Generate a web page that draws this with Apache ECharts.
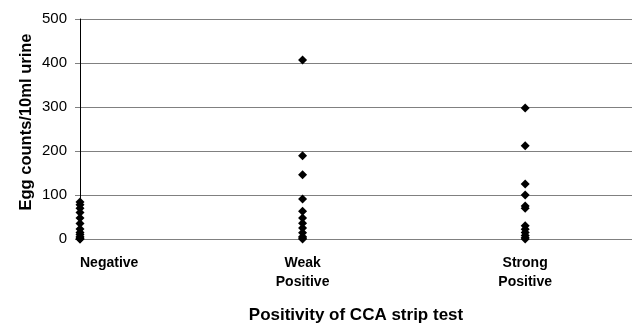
<!DOCTYPE html>
<html>
<head>
<meta charset="utf-8">
<script src="https://cdn.jsdelivr.net/npm/echarts@6/dist/echarts.min.js"></script>
<style>html,body{margin:0;padding:0;background:#fff}#c{width:632px;height:325px}</style>
</head>
<body>
<div id="c"></div>
<script>
var categories = ['Negative', 'Weak\nPositive', 'Strong\nPositive'];
var negativeValues = [84, 78, 70, 60, 48, 35, 23, 15, 10, 5, 2, 0, 0];
var weakValues = [407, 189, 146, 91, 63, 48, 36, 25, 14, 5, 2, 0];
var strongValues = [298, 212, 125, 100, 75, 70, 30, 22, 15, 8, 3, 0];
var yTicks = [0, 100, 200, 300, 400, 500];

var groups = [negativeValues, weakValues, strongValues];
var points = [];
groups.forEach(function (vals, i) {
  vals.forEach(function (v) { points.push([i + 1, v]); });
});

var chart = echarts.init(document.getElementById('c'), null, {renderer: 'canvas'});
chart.setOption({
  animation: false,
  grid: {left: 80, right: 0, top: 19, bottom: 86, containLabel: false, outerBoundsMode: 'none'},
  xAxis: {
    type: 'value', min: 1, max: 3.48, interval: 1,
    name: 'Positivity of CCA strip test', nameLocation: 'middle', nameGap: 68, nameMoveOverlap: false,
    nameTextStyle: {fontFamily: 'Liberation Sans', fontWeight: 'bold', fontSize: 17, color: '#000'},
    axisLine: {show: true, lineStyle: {color: '#808080', width: 1}},
    axisTick: {show: false},
    splitLine: {show: false},
    axisLabel: {
      fontFamily: 'Liberation Sans', fontWeight: 'bold', fontSize: 14, color: '#000',
      lineHeight: 19, margin: 15, alignMinLabel: 'left', showMaxLabel: true,
      formatter: function (v) {
        var idx = Math.round(v) - 1;
        if (Math.abs(v - Math.round(v)) > 1e-6 || idx < 0 || idx >= categories.length) return '';
        return categories[idx];
      }
    }
  },
  yAxis: {
    type: 'value', min: yTicks[0], max: yTicks[yTicks.length - 1], interval: 100,
    name: 'Egg counts/10ml urine', nameLocation: 'middle', nameGap: 45, nameRotate: 90, nameMoveOverlap: false,
    nameTextStyle: {fontFamily: 'Liberation Sans', fontWeight: 'bold', fontSize: 16.5, color: '#000', padding: [0, 0, 0, 14]},
    axisLine: {show: true, lineStyle: {color: '#000', width: 1}},
    axisTick: {show: true, length: 5, lineStyle: {color: '#808080'}},
    splitLine: {show: true, lineStyle: {color: '#808080', width: 1}},
    axisLabel: {fontFamily: 'Liberation Sans', fontSize: 15, color: '#000', margin: 13}
  },
  series: [{
    type: 'scatter',
    symbol: 'diamond',
    symbolSize: 9,
    itemStyle: {color: '#000', opacity: 1},
    data: points,
    z: 5
  }]
});
</script>
</body>
</html>
